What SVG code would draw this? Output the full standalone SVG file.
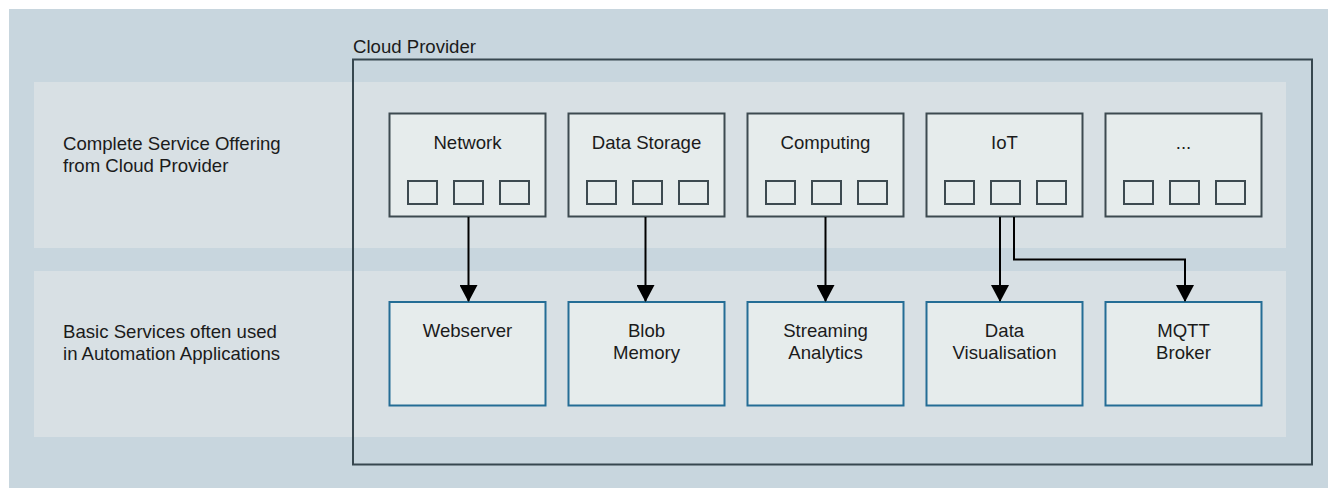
<svg xmlns="http://www.w3.org/2000/svg" width="1328" height="488" viewBox="0 0 1328 488">
<defs>
<style>
text{font-family:"Liberation Sans",Arial,sans-serif;font-size:18.6px;fill:#1b1b1b}
.c{text-anchor:middle}
.top{fill:#e6ecec;stroke:#3d4a50;stroke-width:2}
.sq{fill:#e6ecec;stroke:#3d4a50;stroke-width:2}
.bot{fill:#e6ecec;stroke:#246d95;stroke-width:2}
.band{fill:#d8e0e4}
.conn{fill:none;stroke:#000;stroke-width:2}
</style>
<marker id="arr" markerWidth="17" markerHeight="18" refX="16" refY="9" orient="auto" markerUnits="userSpaceOnUse" viewBox="0 0 17 18">
<path d="M0,0 L17,9 L0,18 Z" fill="#000"/>
</marker>
</defs>
<rect x="9" y="9" width="1319" height="479" fill="#c8d6de"/>
<rect class="band" x="34" y="82" width="1252" height="166"/>
<rect class="band" x="34" y="271" width="1252" height="166"/>
<g id="cloud-provider">
<rect x="353" y="59.5" width="959" height="405" fill="none" stroke="#37474f" stroke-width="2"/>
<text x="353" y="53">Cloud Provider</text>
</g>
<g id="label-complete">
<text x="63" y="150">Complete Service Offering</text>
<text x="63" y="172">from Cloud Provider</text>
</g>
<g id="label-basic">
<text x="63" y="337.5">Basic Services often used</text>
<text x="63" y="360">in Automation Applications</text>
</g>
<g id="network">
<rect class="top" x="389.5" y="113.5" width="156" height="103"/>
<text class="c" x="467.5" y="149">Network</text>
<rect class="sq" x="408" y="181" width="29" height="23"/><rect class="sq" x="454" y="181" width="29" height="23"/><rect class="sq" x="500" y="181" width="29" height="23"/>
</g>
<g id="data-storage">
<rect class="top" x="568.5" y="113.5" width="156" height="103"/>
<text class="c" x="646.5" y="149">Data Storage</text>
<rect class="sq" x="587" y="181" width="29" height="23"/><rect class="sq" x="633" y="181" width="29" height="23"/><rect class="sq" x="679" y="181" width="29" height="23"/>
</g>
<g id="computing">
<rect class="top" x="747.5" y="113.5" width="156" height="103"/>
<text class="c" x="825.5" y="149">Computing</text>
<rect class="sq" x="766" y="181" width="29" height="23"/><rect class="sq" x="812" y="181" width="29" height="23"/><rect class="sq" x="858" y="181" width="29" height="23"/>
</g>
<g id="iot">
<rect class="top" x="926.5" y="113.5" width="156" height="103"/>
<text class="c" x="1004.5" y="149">IoT</text>
<rect class="sq" x="945" y="181" width="29" height="23"/><rect class="sq" x="991" y="181" width="29" height="23"/><rect class="sq" x="1037" y="181" width="29" height="23"/>
</g>
<g id="more">
<rect class="top" x="1105.5" y="113.5" width="156" height="103"/>
<text class="c" x="1183.5" y="149">...</text>
<rect class="sq" x="1124" y="181" width="29" height="23"/><rect class="sq" x="1170" y="181" width="29" height="23"/><rect class="sq" x="1216" y="181" width="29" height="23"/>
</g>
<g id="webserver">
<rect class="bot" x="389.5" y="302" width="156" height="103.5"/>
<text class="c" x="467.5" y="336.5">Webserver</text>
</g>
<g id="blob-memory">
<rect class="bot" x="568.5" y="302" width="156" height="103.5"/>
<text class="c" x="646.5" y="336.5">Blob</text>
<text class="c" x="646.5" y="359">Memory</text>
</g>
<g id="streaming-analytics">
<rect class="bot" x="747.5" y="302" width="156" height="103.5"/>
<text class="c" x="825.5" y="336.5">Streaming</text>
<text class="c" x="825.5" y="359">Analytics</text>
</g>
<g id="data-visualisation">
<rect class="bot" x="926.5" y="302" width="156" height="103.5"/>
<text class="c" x="1004.5" y="336.5">Data</text>
<text class="c" x="1004.5" y="359">Visualisation</text>
</g>
<g id="mqtt-broker">
<rect class="bot" x="1105.5" y="302" width="156" height="103.5"/>
<text class="c" x="1183.5" y="336.5">MQTT</text>
<text class="c" x="1183.5" y="359">Broker</text>
</g>
<g id="connectors">
<path class="conn" d="M468.5,217 V301" marker-end="url(#arr)"/>
<path class="conn" d="M645.5,217 V301" marker-end="url(#arr)"/>
<path class="conn" d="M825.5,217 V301" marker-end="url(#arr)"/>
<path class="conn" d="M1000,217 V301" marker-end="url(#arr)"/>
<path class="conn" d="M1014,217 V259.5 H1185 V301" marker-end="url(#arr)"/>
</g>
</svg>
